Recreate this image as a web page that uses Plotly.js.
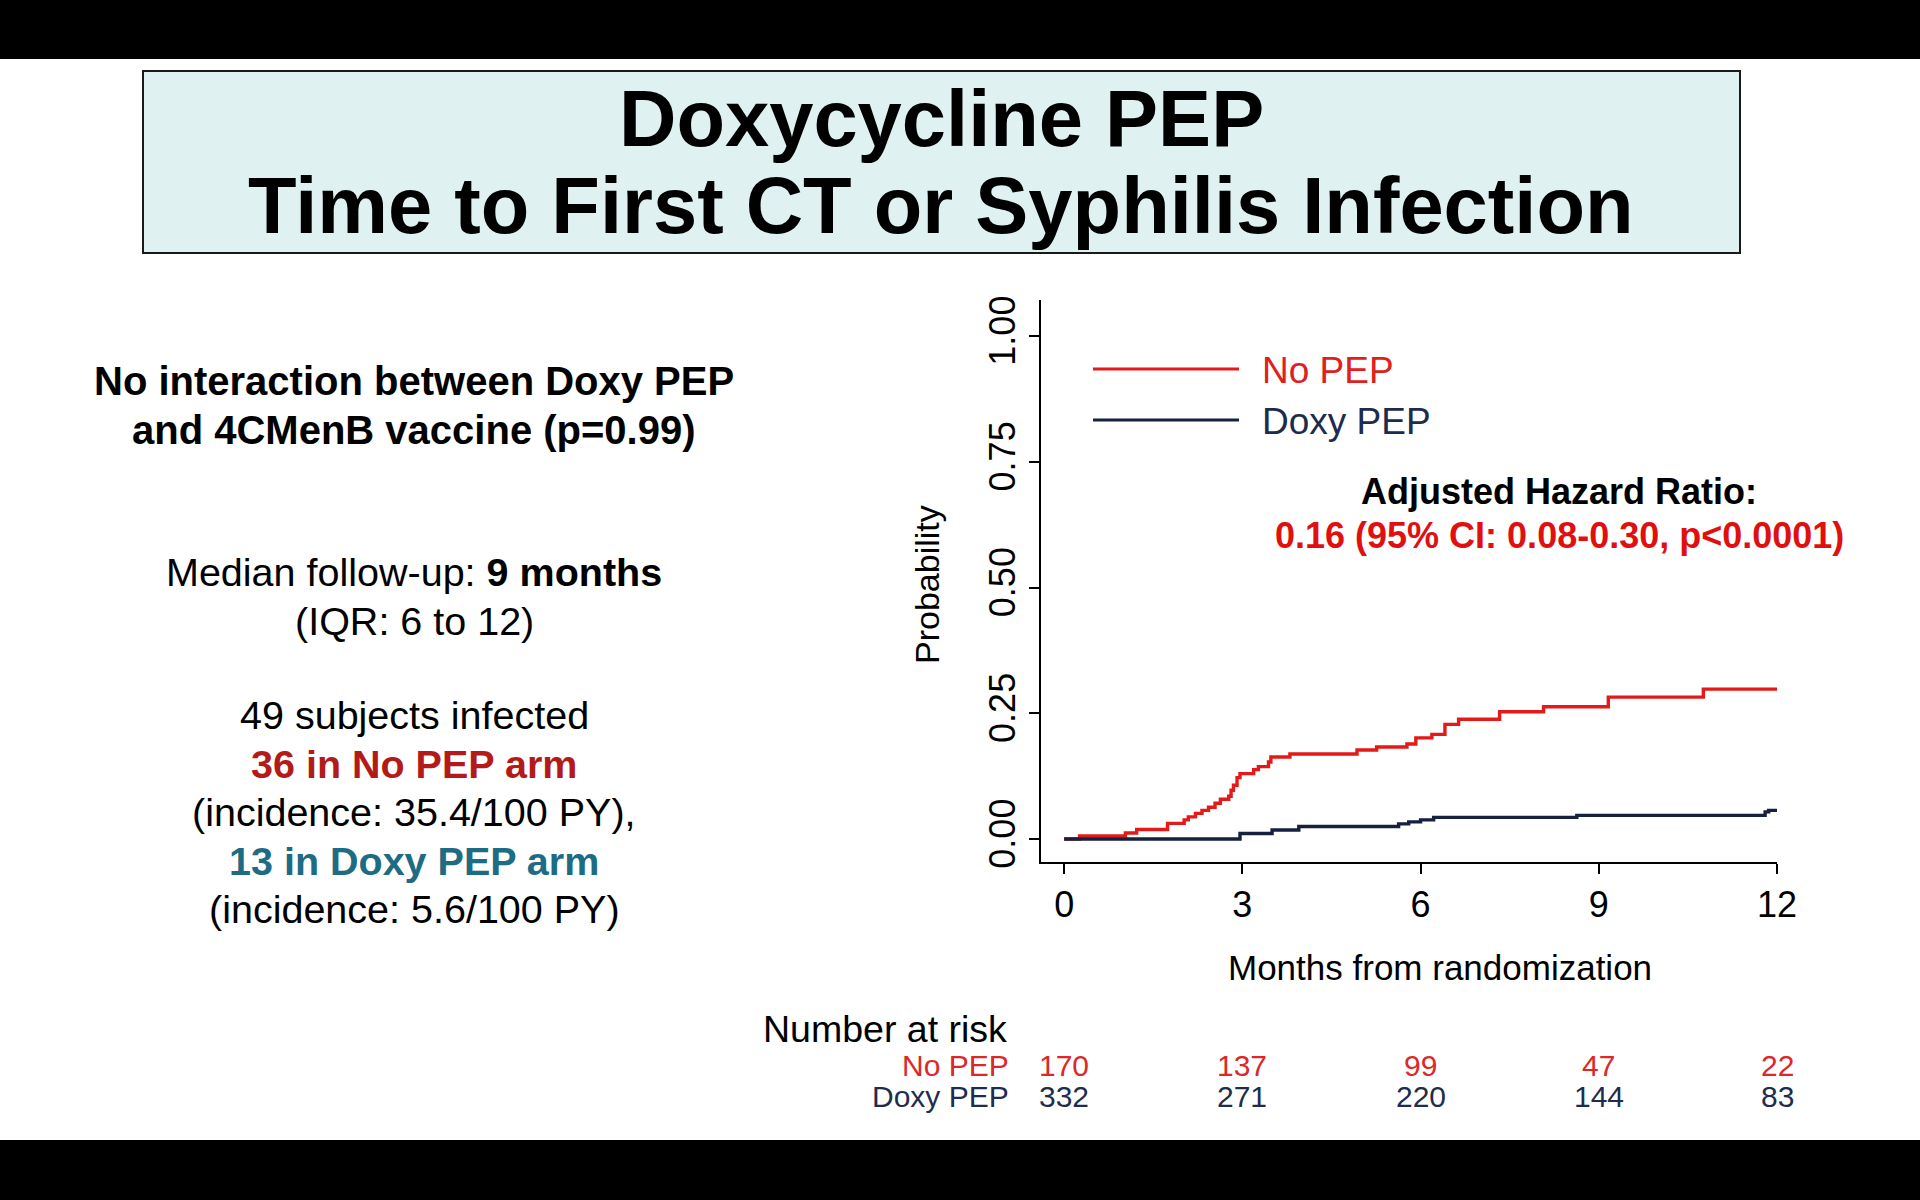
<!DOCTYPE html>
<html>
<head>
<meta charset="utf-8">
<script src="https://cdn.plot.ly/plotly-3.0.1.min.js"></script>
<style>
  html, body { margin: 0; padding: 0; background: #ffffff; }
  #chart { width: 1920px; height: 1200px; }
</style>
</head>
<body>
<div id="chart"></div>
<script>
// ---------- data ----------
const noPepMonths = [0, 0.26, 1.03, 1.22, 1.74, 2.02, 2.09, 2.21, 2.32, 2.43, 2.54, 2.63, 2.77, 2.81, 2.85, 2.91, 2.96, 3.19, 3.27, 3.44, 3.48, 3.80, 4.93, 5.26, 5.77, 5.92, 6.19, 6.41, 6.64, 7.33, 8.07, 9.16, 10.76, 12.0];
const noPepProb   = [0, 0.006, 0.012, 0.019, 0.031, 0.038, 0.044, 0.051, 0.057, 0.063, 0.071, 0.079, 0.085, 0.097, 0.107, 0.122, 0.130, 0.138, 0.144, 0.153, 0.163, 0.169, 0.177, 0.183, 0.189, 0.201, 0.208, 0.228, 0.238, 0.253, 0.263, 0.282, 0.298, 0.298];

const doxyMonths = [0, 2.96, 3.50, 3.95, 5.63, 5.80, 6.00, 6.22, 8.63, 11.80, 11.86, 12.0];
const doxyProb   = [0, 0.011, 0.018, 0.025, 0.030, 0.034, 0.038, 0.043, 0.047, 0.054, 0.057, 0.057];

const xTicks = [0, 3, 6, 9, 12];
const yTicks = [0, 0.25, 0.5, 0.75, 1.0];
const yTickText = ["0.00", "0.25", "0.50", "0.75", "1.00"];

const seriesNames = ["No PEP", "Doxy PEP"];
const atRiskNoPep = [170, 137, 99, 47, 22];
const atRiskDoxy  = [332, 271, 220, 144, 83];

const titleLines = ["Doxycycline PEP", "Time to First CT or Syphilis Infection"];
const xTitle = "Months from randomization";
const yTitle = "Probability";
const hrLabel = "Adjusted Hazard Ratio:";
const hrValue = "0.16 (95% CI: 0.08-0.30, p<0.0001)";

// ---------- styling ----------
const RED = "#e41a1a";
const NAVY = "#16213f";
const FONT = "Liberation Sans, Arial, sans-serif";
const W = 1920, H = 1200;
const px = v => v / W;
const py = v => 1 - v / H;

const traces = [
  { x: noPepMonths, y: noPepProb, type: "scatter", mode: "lines", name: seriesNames[0],
    line: { color: RED, width: 3.4, shape: "hv" }, showlegend: false, hoverinfo: "skip" },
  { x: doxyMonths, y: doxyProb, type: "scatter", mode: "lines", name: seriesNames[1],
    line: { color: NAVY, width: 3.4, shape: "hv" }, showlegend: false, hoverinfo: "skip" }
];

const shapes = [
  { type: "rect", xref: "paper", yref: "paper", x0: 0, x1: 1, y0: py(59), y1: 1, fillcolor: "#000", line: { width: 0 }, layer: "below" },
  { type: "rect", xref: "paper", yref: "paper", x0: 0, x1: 1, y0: 0, y1: py(1140), fillcolor: "#000", line: { width: 0 }, layer: "below" },
  { type: "rect", xref: "paper", yref: "paper", x0: px(143), x1: px(1740), y0: py(253), y1: py(71), fillcolor: "#dff1f1", line: { color: "#1a1a1a", width: 2 }, layer: "below" },
  // legend samples
  { type: "line", xref: "paper", yref: "paper", x0: px(1093), x1: px(1239), y0: py(369), y1: py(369), line: { color: RED, width: 3 } },
  { type: "line", xref: "paper", yref: "paper", x0: px(1093), x1: px(1239), y0: py(420), y1: py(420), line: { color: NAVY, width: 3 } }
];

const annotations = [];
function txt(text, x, y, opts) {
  annotations.push(Object.assign({
    text: text, xref: "paper", yref: "paper", x: px(x), y: py(y),
    xanchor: "center", yanchor: "middle", showarrow: false,
    font: { family: FONT, size: 39.5, color: "#000" }
  }, opts || {}));
}

// title
txt("<b>" + titleLines[0] + "</b>", 941, 119, { font: { family: FONT, size: 79.5, color: "#000" } });
txt("<b>" + titleLines[1] + "</b>", 941, 206, { font: { family: FONT, size: 79.5, color: "#000" } });

// left text block
const LX = 414;
txt("<b>No interaction between Doxy PEP</b>", LX, 381, { font: { family: FONT, size: 40, color: "#000" } });
txt("<b>and 4CMenB vaccine (p=0.99)</b>", LX, 430, { font: { family: FONT, size: 40, color: "#000" } });
txt("Median follow-up: <b>9 months</b>", LX, 572);
txt("(IQR: 6 to 12)", LX, 621);
txt("49 subjects infected", LX, 715);
txt("<b>36 in No PEP arm</b>", LX, 764, { font: { family: FONT, size: 39.5, color: "#b31b1b" } });
txt("(incidence: 35.4/100 PY),", LX, 812);
txt("<b>13 in Doxy PEP arm</b>", LX, 861, { font: { family: FONT, size: 39.5, color: "#1e6b84" } });
txt("(incidence: 5.6/100 PY)", LX, 909);

// axis titles
txt(xTitle, 1440, 967, { font: { family: FONT, size: 35, color: "#000" } });
txt(yTitle, 927, 585, { textangle: -90, font: { family: FONT, size: 34, color: "#000" } });

// legend text
txt(seriesNames[0], 1260, 370, { xanchor: "left", font: { family: FONT, size: 37, color: "#e0201c" } });
txt(seriesNames[1], 1260, 421, { xanchor: "left", font: { family: FONT, size: 37, color: "#1c2b4e" } });

// hazard ratio
txt("<b>" + hrLabel + "</b>", 1559, 491, { font: { family: FONT, size: 36, color: "#000" } });
txt("<b>" + hrValue + "</b>", 1559, 535, { font: { family: FONT, size: 36, color: "#e01010" } });

// number at risk
txt("Number at risk", 761, 1029, { xanchor: "left", font: { family: FONT, size: 37.5, color: "#000" } });
txt(seriesNames[0], 1011, 1065, { xanchor: "right", font: { family: FONT, size: 30, color: "#dc2828" } });
txt(seriesNames[1], 1011, 1096, { xanchor: "right", font: { family: FONT, size: 30, color: "#1f2d4d" } });
xTicks.forEach((t, i) => {
  annotations.push({ text: String(atRiskNoPep[i]), xref: "x", yref: "paper", x: t, y: py(1065),
    xanchor: "center", yanchor: "middle", showarrow: false, font: { family: FONT, size: 30, color: "#dc2828" } });
  annotations.push({ text: String(atRiskDoxy[i]), xref: "x", yref: "paper", x: t, y: py(1096),
    xanchor: "center", yanchor: "middle", showarrow: false, font: { family: FONT, size: 30, color: "#1f2d4d" } });
});

const layout = {
  width: W, height: H,
  margin: { l: 0, r: 0, t: 0, b: 0, pad: 0 },
  paper_bgcolor: "#ffffff", plot_bgcolor: "#ffffff",
  showlegend: false,
  font: { family: FONT, color: "#000" },
  xaxis: {
    domain: [px(1041), px(1777)],
    range: [-0.39, 12],
    tickvals: xTicks, ticktext: xTicks.map(String),
    ticks: "outside", ticklen: 10, tickwidth: 2, tickcolor: "#000",
    showline: true, linewidth: 2, linecolor: "#000",
    showgrid: false, zeroline: false,
    tickfont: { family: FONT, size: 36, color: "#000" },
    automargin: false, fixedrange: true
  },
  yaxis: {
    domain: [1 - 862 / H, 1 - 300 / H],
    range: [-0.0457, 1.0716],
    tickvals: yTicks, ticktext: yTickText, tickangle: -90,
    ticks: "outside", ticklen: 10, tickwidth: 2, tickcolor: "#000",
    showline: true, linewidth: 2, linecolor: "#000",
    showgrid: false, zeroline: false,
    tickfont: { family: FONT, size: 36, color: "#000" },
    automargin: false, fixedrange: true
  },
  shapes: shapes,
  annotations: annotations
};

Plotly.newPlot("chart", traces, layout, { staticPlot: true, displayModeBar: false });
</script>
</body>
</html>
